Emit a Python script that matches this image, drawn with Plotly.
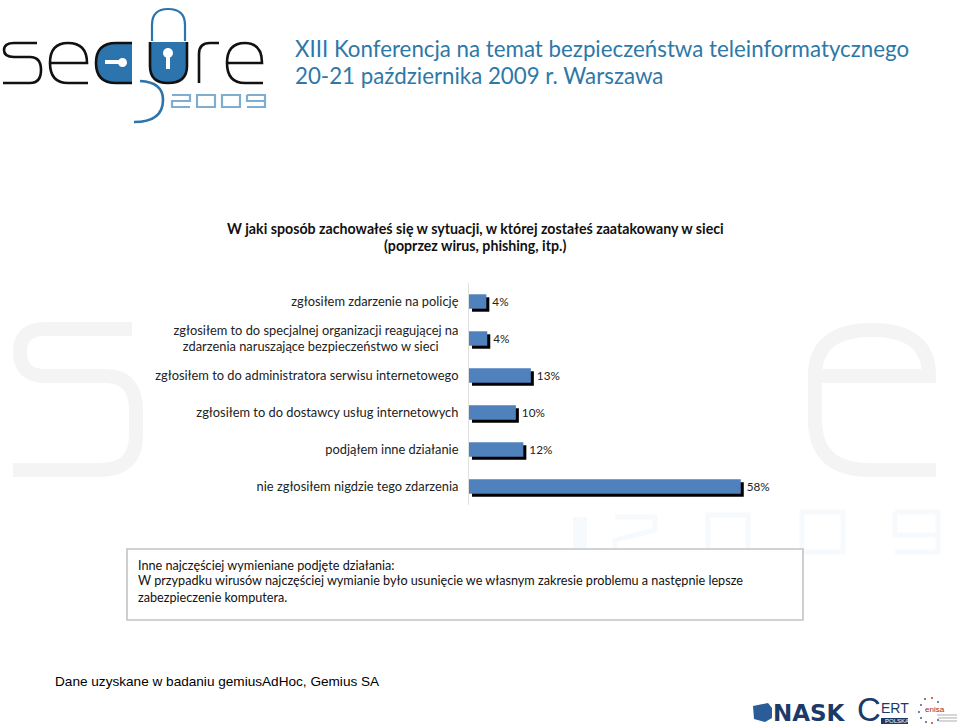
import plotly.graph_objects as go

W, H = 960, 728
categories = [
    "zgłosiłem zdarzenie na policję",
    "zgłosiłem to do specjalnej organizacji reagującej na<br>zdarzenia naruszające bezpieczeństwo w sieci" + "\u00a0" * 6,
    "zgłosiłem to do administratora serwisu internetowego",
    "zgłosiłem to do dostawcy usług internetowych",
    "podjąłem inne działanie",
    "nie zgłosiłem nigdzie tego zdarzenia",
]
values = [3.7, 3.9, 13.2, 10.0, 11.6, 58.0]
title_lines = ["W jaki sposób zachowałeś się w sytuacji, w której zostałeś zaatakowany w sieci",
               "(poprzez wirus, phishing, itp.)"]
header_lines = ["XIII Konferencja na temat bezpieczeństwa teleinformatycznego",
                "20-21 października 2009 r. Warszawa"]
note_lines = ["Inne najczęściej wymieniane podjęte działania:",
              "W przypadku wirusów najczęściej wymianie było usunięcie we własnym zakresie problemu a następnie lepsze",
              "zabezpieczenie komputera."]
footer = "Dane uzyskane w badaniu gemiusAdHoc, Gemius SA"

BLUE = "#4f81bd"
LOGO_BLUE = "#2b74ad"
NAVY = "#1b3a68"
X0, X1 = 469, 797
Y0, Y1 = 283, 505
SH = 3

def px(x): return x / W
def py(y): return 1 - y / H

def path(cmds):
    out = []
    for c in cmds:
        if isinstance(c, str):
            out.append(c)
        else:
            out.append(f"{px(c[0]):.5f},{py(c[1]):.5f}")
    return " ".join(out)

shapes = []
def add_path(cmds, color=None, width=0, fill=None):
    shapes.append(dict(type="path", xref="paper", yref="paper", path=path(cmds), layer="below",
                       line=dict(color=color or "rgba(0,0,0,0)", width=width),
                       fillcolor=fill or "rgba(0,0,0,0)"))

# watermark
WM = "#f4f4f4"
add_path(["M", (132, 329), "L", (45, 329), "Q", (20, 329), (20, 352), "Q", (20, 376), (45, 376), "L", (105, 376),
          "Q", (136, 376), (136, 410), "L", (136, 435), "Q", (136, 470), (100, 470), "L", (13, 470)], WM, 14)
add_path(["M", (815, 376), "L", (929, 376), "Q", (929, 330), (872, 330), "Q", (815, 330), (815, 376), "L", (815, 420),
          "Q", (815, 470), (870, 470), "L", (936, 470)], WM, 14)
WM2 = "#f7fafc"
add_path(["M", (580, 517), "L", (580, 560)], WM2, 14)
add_path(["M", (615, 517), "L", (655, 517), "L", (655, 530), "L", (615, 540), "L", (615, 556), "L", (660, 556)], WM2, 5)
add_path(["M", (708, 515), "L", (748, 515), "L", (748, 552), "L", (708, 552), "Z"], WM2, 5)
add_path(["M", (802, 512), "L", (843, 512), "L", (843, 552), "L", (802, 552), "Z"], WM2, 5)
add_path(["M", (895, 512), "L", (938, 512), "L", (938, 552), "L", (895, 552), "M", (938, 535), "L", (895, 535), "L", (895, 512)], WM2, 5)

# note box
shapes.append(dict(type="rect", xref="paper", yref="paper", x0=px(127), x1=px(803), y0=py(620), y1=py(549),
                   layer="below", line=dict(color="#c4c4c4", width=1.6), fillcolor="#ffffff"))

# logo
K = "#111111"
add_path(["M", (37, 43), "L", (14, 43), "Q", (4, 43), (4, 50), "Q", (4, 57), (14, 57), "L", (30, 57),
          "Q", (41, 57), (41, 70), "Q", (41, 83), (30, 83), "L", (3, 83)], K, 2.6)
add_path(["M", (50, 63), "L", (87, 63), "Q", (87, 43), (68, 43), "Q", (50, 43), (50, 63), "Q", (50, 83), (68, 83), "L", (88, 83)], K, 2.6)
add_path(["M", (132, 43), "L", (116, 43), "Q", (96, 43), (96, 63), "Q", (96, 83), (116, 83), "L", (132, 83), "Z"], None, 0, LOGO_BLUE)
add_path(["M", (132, 43), "L", (116, 43), "Q", (96, 43), (96, 63), "Q", (96, 83), (116, 83), "L", (132, 83)], K, 2.6)
add_path(["M", (105, 62), "L", (126, 62)], "#ffffff", 4)
shapes.append(dict(type="circle", xref="paper", yref="paper", x0=px(118), x1=px(127), y0=py(67), y1=py(58),
                   layer="below", line=dict(width=0), fillcolor="#ffffff"))
add_path(["M", (152, 41), "L", (152, 25), "Q", (152, 9), (168, 9), "Q", (185, 9), (185, 25), "L", (185, 41)], LOGO_BLUE, 2.2)
add_path(["M", (150, 42), "L", (187, 42), "L", (187, 66), "Q", (187, 83), (168, 83), "Q", (150, 83), (150, 66), "Z"], None, 0, LOGO_BLUE)
add_path(["M", (150, 42), "L", (150, 66), "Q", (150, 83), (168, 83), "Q", (187, 83), (187, 66), "L", (187, 42)], K, 2.6)
shapes.append(dict(type="circle", xref="paper", yref="paper", x0=px(163), x1=px(173), y0=py(58), y1=py(48),
                   layer="below", line=dict(width=0), fillcolor="#ffffff"))
add_path(["M", (168, 55), "L", (168, 69)], "#ffffff", 4)
add_path(["M", (199, 83), "L", (199, 54), "Q", (199, 43), (210, 43), "L", (219, 43)], K, 2.6)
add_path(["M", (227, 63), "L", (262, 63), "Q", (262, 43), (245, 43), "Q", (227, 43), (227, 63), "Q", (227, 83), (245, 83), "L", (263, 83)], K, 2.6)
add_path(["M", (140, 81), "Q", (163, 82), (163, 100), "Q", (163, 122), (134, 122)], LOGO_BLUE, 2.6)
D = "#7fadcf"
add_path(["M", (172, 95), "L", (190, 95), "L", (190, 101), "L", (172, 101), "L", (172, 107), "L", (190, 107)], D, 2.2)
add_path(["M", (197, 95), "L", (215, 95), "L", (215, 107), "L", (197, 107), "Z"], D, 2.2)
add_path(["M", (222, 95), "L", (240, 95), "L", (240, 107), "L", (222, 107), "Z"], D, 2.2)
add_path(["M", (247, 95), "L", (265, 95), "L", (265, 107), "L", (247, 107), "M", (265, 101), "L", (247, 101), "L", (247, 95)], D, 2.2)

# bottom logos
add_path(["M", (753, 706), "L", (768, 703), "L", (772, 708), "L", (772, 718), "L", (765, 722), "L", (754, 719), "Z"], None, 0, "#2a5d97")
add_path(["M", (881, 721), "L", (908, 721)], NAVY, 6)
for (dx, dy) in [(925, 699), (932, 698), (938, 702), (921, 705), (919, 712), (921, 718), (926, 722), (932, 723), (938, 720)]:
    c = "#c0392b" if dx == 932 else "#3d5f8f"
    shapes.append(dict(type="circle", xref="paper", yref="paper", x0=px(dx - 1), x1=px(dx + 1), y0=py(dy + 1), y1=py(dy - 1),
                       layer="below", line=dict(width=0), fillcolor=c))
add_path(["M", (937, 715), "L", (957, 715), "M", (938, 718), "L", (957, 718), "M", (939, 721), "L", (957, 721)], "#999999", 0.8)

anns = []
def text(s, x, y, font, size, color="#000000", anchor="left", bold=False):
    anns.append(dict(text=f"<b>{s}</b>" if bold else s, x=px(x), y=py(y), xref="paper", yref="paper",
                     xanchor=anchor, yanchor="middle", showarrow=False, align=anchor,
                     font=dict(family=font, size=size, color=color)))

text(header_lines[0], 293, 49, "Lato", 22.3, "#2e78a8")
text(header_lines[1], 293, 76, "Lato", 22.3, "#2e78a8")
text(title_lines[0], 475, 228, "Lato", 14.2, "#111111", "center", True)
text(title_lines[1], 475, 245, "Lato", 14.2, "#111111", "center", True)
for line, y in zip(note_lines, [565, 580, 597]):
    text(line, 136, y, "Lato", 12.65, "#111111")
text(footer, 53, 681, "Liberation Sans", 13.6, "#000000")
text("NASK", 771, 713, "DejaVu Sans", 23, NAVY, bold=True)
text("C", 855, 709, "Liberation Sans", 33, NAVY)
text("ERT", 879, 708, "Liberation Sans", 14, NAVY)
text("POLSKA", 883, 721, "Liberation Sans", 6, "#ffffff")
text("enisa", 923, 709, "Liberation Sans", 8, "#a01c2e")

# Shadow sits on axes shifted by a few pixels, the main bars on their own axes above it
fig = go.Figure()
fig.add_trace(go.Bar(y=categories, x=values, orientation="h", xaxis="x", yaxis="y",
                     marker=dict(color="#000000", line=dict(width=0)), hoverinfo="skip", showlegend=False))
fig.add_trace(go.Bar(y=categories, x=values, orientation="h", xaxis="x2", yaxis="y2",
                     marker=dict(color=BLUE, line=dict(width=0)), showlegend=False,
                     texttemplate="\u00a0%{x:.0f}%", textposition="outside", cliponaxis=False,
                     textfont=dict(family="Lato", size=13, color="#222222")))

fig.update_layout(
    width=W, height=H, margin=dict(l=0, r=0, t=0, b=0, pad=0), autosize=False,
    paper_bgcolor="#ffffff", plot_bgcolor="rgba(0,0,0,0)", bargap=0.61,
    font=dict(family="Lato"), shapes=shapes, annotations=anns,
    xaxis=dict(domain=[px(X0 + SH), px(X1 + SH)], range=[0, 70], visible=False, anchor="y"),
    yaxis=dict(domain=[py(Y1 + SH), py(Y0 + SH)], autorange="reversed", visible=False, anchor="x"),
    xaxis2=dict(domain=[px(X0), px(X1)], range=[0, 70], visible=False, anchor="y2"),
    yaxis2=dict(domain=[py(Y1), py(Y0)], autorange="reversed", anchor="x2", showline=True,
                linecolor="#e0e0e0", linewidth=1, ticks="", showgrid=False, ticklabelstandoff=7,
                tickfont=dict(family="Lato", size=12.85, color="#222222")),
)
fig.write_html("out.html", config=dict(displayModeBar=False),
               post_script="document.body.style.margin='0';document.body.style.overflow='hidden';")
